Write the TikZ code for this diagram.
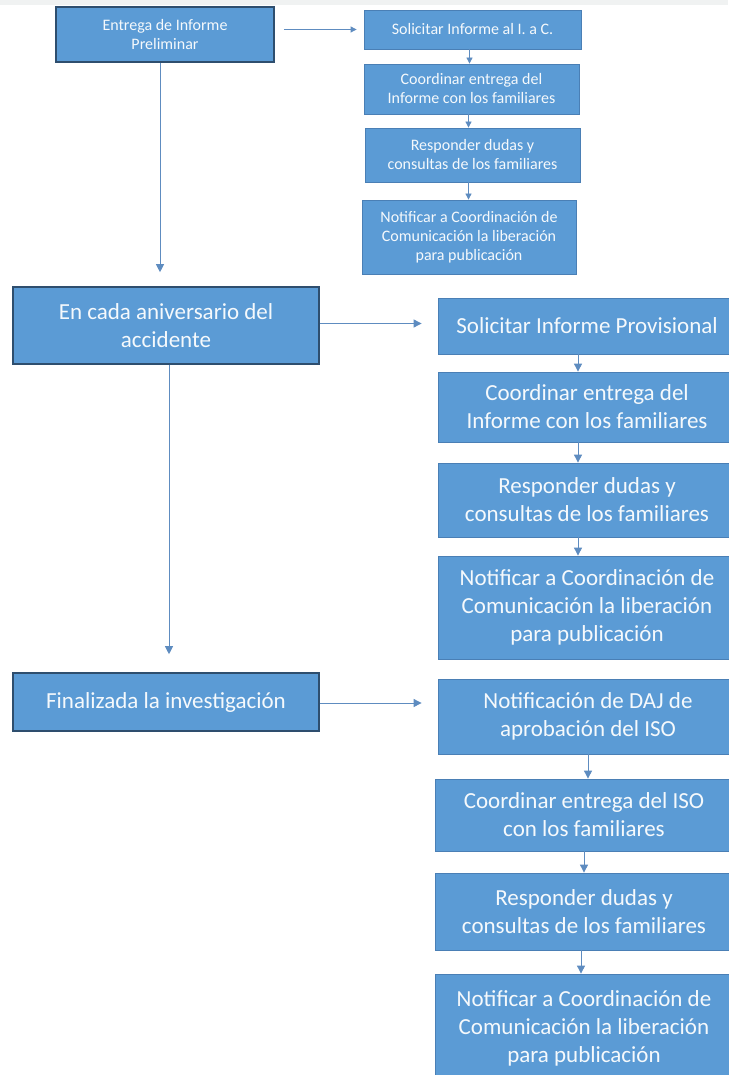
\documentclass[tikz,border=0pt]{standalone}
\usepackage{fontspec}
\setmainfont{Carlito}
\usetikzlibrary{arrows.meta, positioning}
\definecolor{boxblue}{HTML}{5B9BD5}
\definecolor{edgeblue}{HTML}{4A7FB5}
\definecolor{darkedge}{HTML}{2E4E6E}
\definecolor{arrblue}{HTML}{5E8CC0}
\definecolor{txtwhite}{HTML}{F5F9FC}
\definecolor{topgray}{HTML}{F0F2F2}

\begin{document}
\begin{tikzpicture}[
    x=1pt, y=-1pt,
    every node/.style={align=center},
    small/.style ={font=\fontsize{16}{19}\selectfont},
    large/.style ={font=\fontsize{23}{28}\selectfont},
    stage/.style ={rectangle, draw=darkedge, line width=1.6pt, fill=boxblue,
                   text=txtwhite, inner sep=0pt},
    task/.style  ={rectangle, draw=edgeblue, line width=0.8pt, fill=boxblue,
                   text=txtwhite, inner sep=0pt},
    arr/.style   ={-{Triangle[length=8pt,width=8pt]}, draw=arrblue, line width=0.9pt},
    arrs/.style  ={-{Triangle[length=6pt,width=6pt]}, draw=arrblue, line width=0.8pt}
]
\useasboundingbox[fill=white] (0,0) rectangle (728,1075);
\fill[topgray] (0,0) rectangle (728,5);

% Informe preliminar
\node[stage, small, minimum width=218pt, minimum height=55pt] (prel) at (165,34.5)
    {Entrega de Informe\\Preliminar};
\node[task, small, minimum width=217pt, minimum height=39pt] (a1) at (472.5,29.5)
    {Solicitar Informe al I. a C.};
\node[task, small, minimum width=215pt, minimum height=50pt] (a2) at (471.5,89)
    {Coordinar entrega del\\Informe con los familiares};
\node[task, small, minimum width=215pt, minimum height=54pt] (a3) at (472.5,155)
    {Responder dudas y\\consultas de los familiares};
\node[task, small, minimum width=214pt, minimum height=74pt] (a4) at (469,237)
    {Notificar a Coordinación de\\Comunicación la liberación\\para publicación};

% Aniversario
\node[stage, large, minimum width=306pt, minimum height=77pt] (aniv) at (166,325.5)
    {En cada aniversario del\\accidente};
\node[task, large, minimum width=298pt, minimum height=56pt] (b1) at (587,326)
    {Solicitar Informe Provisional};
\node[task, large, minimum width=298pt, minimum height=70pt] (b2) at (587,407)
    {Coordinar entrega del\\Informe con los familiares};
\node[task, large, minimum width=298pt, minimum height=74pt] (b3) at (587,500)
    {Responder dudas y\\consultas de los familiares};
\node[task, large, minimum width=298pt, minimum height=103pt] (b4) at (587,607.5)
    {Notificar a Coordinación de\\Comunicación la liberación\\para publicación};

% Investigacion finalizada
\node[stage, large, minimum width=306pt, minimum height=58pt] (fin) at (166,702)
    {Finalizada la investigación};
\node[task, large, minimum width=300pt, minimum height=75pt] (c1) at (588,716.5)
    {Notificación de DAJ de\\aprobación del ISO};
\node[task, large, minimum width=298pt, minimum height=72pt] (c2) at (584,815)
    {Coordinar entrega del ISO\\con los familiares};
\node[task, large, minimum width=298pt, minimum height=77pt] (c3) at (584,911.5)
    {Responder dudas y\\consultas de los familiares};
\node[task, large, minimum width=298pt, minimum height=108pt] (c4) at (584,1028)
    {Notificar a Coordinación de\\Comunicación la liberación\\para publicación};

% Arrows top
\draw[arrs, shorten <=9pt, shorten >=7pt] (prel.east |- a1.west) -- (a1.west);
\draw[arrs] ([xshift=-3pt]a1.south) -- ([xshift=-3pt]a1.south |- a2.north);
\draw[arrs] ([xshift=-3pt]a2.south) -- ([xshift=-3pt]a2.south |- a3.north);
\draw[arrs] ([xshift=-4pt]a3.south) -- ([xshift=-4pt]a3.south |- a4.north);
\draw[arr, shorten >=14pt] ([xshift=-5pt]prel.south) -- ([xshift=-5pt]prel.south |- aniv.north);

% Arrows middle
\draw[arr, shorten >=16pt] ([yshift=2pt]aniv.east) -- ([yshift=2pt]aniv.east -| b1.west);
\draw[arr] ([xshift=-9pt]b1.south) -- ([xshift=-9pt]b1.south |- b2.north);
\draw[arr] ([xshift=-9pt]b2.south) -- ([xshift=-9pt]b2.south |- b3.north);
\draw[arr] ([xshift=-9pt]b3.south) -- ([xshift=-9pt]b3.south |- b4.north);
\draw[arr, shorten >=18pt] ([xshift=3pt]aniv.south) -- ([xshift=3pt]aniv.south |- fin.north);

% Arrows bottom
\draw[arr, shorten >=16pt] ([yshift=-1pt]fin.east) -- ([yshift=-1pt]fin.east -| c1.west);
\draw[arr] (c1.south) -- (c1.south |- c2.north);
\draw[arr] (c2.south) -- (c2.south |- c3.north);
\draw[arr] ([xshift=-3pt]c3.south) -- ([xshift=-3pt]c3.south |- c4.north);
\end{tikzpicture}
\end{document}
